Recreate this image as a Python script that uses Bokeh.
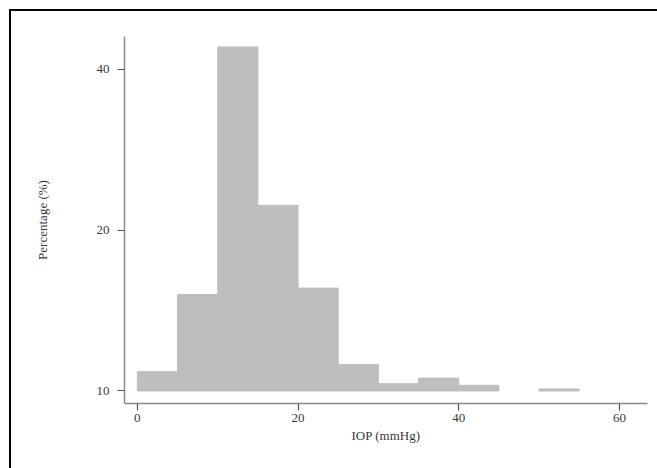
from bokeh.plotting import figure
from bokeh.models import Range1d, FixedTicker, ColumnDataSource
from bokeh.embed import file_html
from bokeh.resources import INLINE

# Histogram of IOP, 5 mmHg bins
bin_left = [0, 5, 10, 15, 20, 25, 30, 35, 40, 45, 50]
bin_right = [5, 10, 15, 20, 25, 30, 35, 40, 45, 50, 55]
percent = [2.4, 12.0, 42.8, 23.1, 12.8, 3.3, 0.9, 1.6, 0.7, 0.0, 0.25]

x_ticks = [0, 20, 40, 60]
y_ticks = [0, 20, 40]
y_tick_labels = {0: "10", 20: "20", 40: "40"}

keep = [i for i, v in enumerate(percent) if v > 0]
src = ColumnDataSource(dict(left=[bin_left[i] for i in keep],
                            right=[bin_right[i] for i in keep],
                            top=[percent[i] for i in keep],
                            bottom=[0] * len(keep)))

p = figure(width=648, height=459, output_backend="svg", toolbar_location=None,
           x_range=Range1d(-1.6, 63.5), y_range=Range1d(-1.56, 44.1),
           min_border_left=113, min_border_right=12, min_border_top=25,
           min_border_bottom=67)
p.styles = {"border-left": "2px solid black", "border-top": "2px solid black",
            "box-sizing": "border-box", "margin-left": "9px", "margin-top": "9px"}

p.quad(left="left", right="right", top="top", bottom="bottom", source=src,
       fill_color="#bebebe", line_color="#bebebe", line_width=1)

p.grid.visible = False
p.outline_line_color = None
p.background_fill_color = "white"
p.border_fill_color = "white"

for ax in (p.xaxis[0], p.yaxis[0]):
    ax.axis_line_color = "#8a8a8a"
    ax.axis_line_width = 1.5
    ax.major_tick_line_color = "#555555"
    ax.major_tick_line_width = 1.2
    ax.major_tick_out = 7
    ax.major_tick_in = 0
    ax.minor_tick_line_color = None
    ax.major_label_text_font = "Liberation Serif"
    ax.major_label_text_font_size = "13px"
    ax.major_label_text_color = "#3a3a3a"
    ax.axis_label_text_font = "Liberation Serif"
    ax.axis_label_text_font_size = "13px"
    ax.axis_label_text_font_style = "normal"
    ax.axis_label_text_color = "#3a3a3a"

p.xaxis.ticker = FixedTicker(ticks=x_ticks)
p.yaxis.ticker = FixedTicker(ticks=y_ticks)
p.yaxis.major_label_overrides = y_tick_labels
p.xaxis.axis_label = "IOP (mmHg)"
p.yaxis.axis_label = "Percentage (%)"
p.xaxis.axis_label_standoff = 3
p.yaxis.axis_label_standoff = 44
p.xaxis.major_label_standoff = 3
p.yaxis.major_label_standoff = 8

open("out.html", "w").write(file_html(p, INLINE))
